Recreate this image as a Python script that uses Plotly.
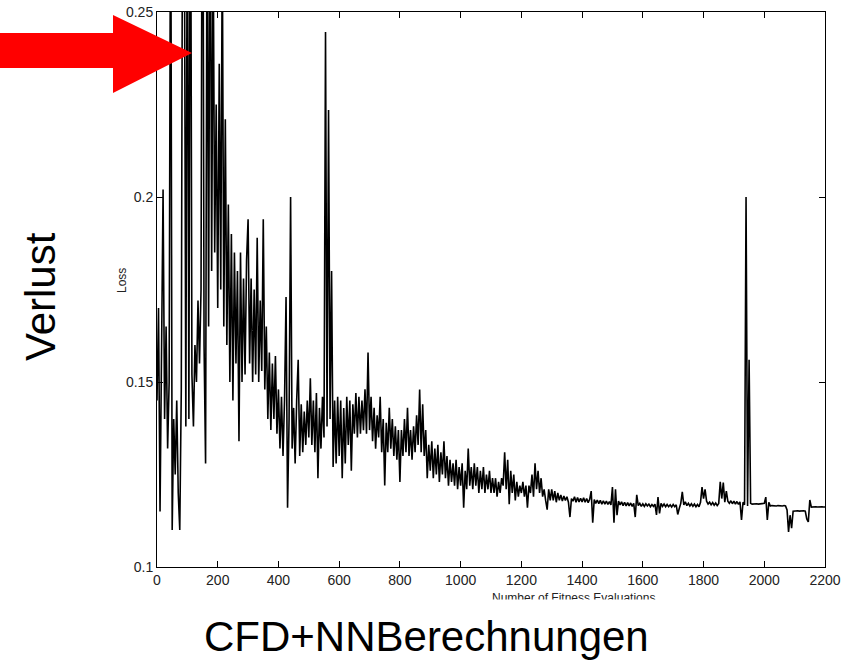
import plotly.graph_objects as go

# Number of fitness evaluations (sampled every 5 evaluations)
evaluations = list(range(0, 2201, 5))

# Loss values (one row = 100 evaluations)
loss = [
    0.145, 0.170, 0.115, 0.168, 0.202, 0.140, 0.165, 0.132, 0.150, 0.300,
    0.110, 0.140, 0.125, 0.145, 0.120, 0.110, 0.148, 0.320, 0.280, 0.138,
    0.300, 0.140, 0.320, 0.152, 0.138, 0.160, 0.150, 0.172, 0.155, 0.175,
    0.340, 0.160, 0.128, 0.290, 0.165, 0.310, 0.180, 0.270, 0.185, 0.225,
    0.170, 0.236, 0.175, 0.270, 0.165, 0.221, 0.160, 0.198, 0.150, 0.190,
    0.145, 0.185, 0.155, 0.180, 0.134, 0.185, 0.150, 0.178, 0.152, 0.183,
    0.194, 0.155, 0.178, 0.150, 0.175, 0.152, 0.189, 0.150, 0.172, 0.153,
    0.194, 0.148, 0.165, 0.140, 0.158, 0.137, 0.155, 0.140, 0.157, 0.136,
    0.148, 0.132, 0.146, 0.130, 0.145, 0.173, 0.116, 0.140, 0.200, 0.132,
    0.143, 0.128, 0.145, 0.156, 0.130, 0.144, 0.131, 0.142, 0.133, 0.145,
    0.135, 0.151, 0.133, 0.145, 0.131, 0.147, 0.124, 0.143, 0.132, 0.146,
    0.135, 0.2446, 0.138, 0.2235, 0.140, 0.180, 0.127, 0.145, 0.128, 0.146,
    0.130, 0.145, 0.124, 0.143, 0.128, 0.146, 0.133, 0.145, 0.126, 0.144,
    0.136, 0.147, 0.135, 0.146, 0.136, 0.145, 0.137, 0.148, 0.136, 0.158,
    0.137, 0.146, 0.134, 0.143, 0.132, 0.141, 0.135, 0.146, 0.131, 0.140,
    0.122, 0.139, 0.131, 0.143, 0.132, 0.140, 0.130, 0.138, 0.129, 0.137,
    0.123, 0.137, 0.130, 0.140, 0.131, 0.143, 0.130, 0.137, 0.129, 0.138,
    0.131, 0.141, 0.133, 0.148, 0.131, 0.144, 0.130, 0.137, 0.124, 0.133,
    0.126, 0.134, 0.124, 0.132, 0.125, 0.133, 0.123, 0.131, 0.125, 0.134,
    0.124, 0.130, 0.122, 0.129, 0.123, 0.128, 0.122, 0.129, 0.121, 0.127,
    0.122, 0.128, 0.116, 0.126, 0.121, 0.132, 0.122, 0.127, 0.121, 0.128,
    0.122, 0.127, 0.120, 0.126, 0.121, 0.127, 0.120, 0.125, 0.121, 0.126,
    0.120, 0.124, 0.120, 0.124, 0.119, 0.123, 0.120, 0.124, 0.122, 0.131,
    0.121, 0.129, 0.117, 0.126, 0.120, 0.125, 0.118, 0.123, 0.119, 0.122,
    0.120, 0.123, 0.119, 0.122, 0.116, 0.122, 0.120, 0.125, 0.119, 0.128,
    0.121, 0.126, 0.120, 0.124, 0.119, 0.121, 0.118, 0.1155, 0.121, 0.118,
    0.121, 0.118, 0.1205, 0.1175, 0.120, 0.118, 0.1195, 0.1178, 0.1192, 0.118,
    0.119, 0.1175, 0.1135, 0.1185, 0.1178, 0.119, 0.1175, 0.1188, 0.1176, 0.1186,
    0.1176, 0.1187, 0.1175, 0.1185, 0.1174, 0.1183, 0.1205, 0.112, 0.1182, 0.1172,
    0.1181, 0.1171, 0.118, 0.117, 0.1179, 0.117, 0.1178, 0.1169, 0.1177, 0.1168,
    0.1216, 0.112, 0.121, 0.114, 0.1178, 0.1168, 0.1176, 0.1166, 0.1175, 0.1165,
    0.1174, 0.1165, 0.1173, 0.1164, 0.1172, 0.1135, 0.1195, 0.1166, 0.1172, 0.1164,
    0.1171, 0.1164, 0.1171, 0.1165, 0.117, 0.1163, 0.1169, 0.1164, 0.117, 0.1141,
    0.1189, 0.1145, 0.1172, 0.1164, 0.117, 0.1163, 0.1169, 0.1163, 0.1168, 0.1162,
    0.1169, 0.1163, 0.1168, 0.1142, 0.1158, 0.1172, 0.1203, 0.1168, 0.1176, 0.1166,
    0.1172, 0.1165, 0.1171, 0.1164, 0.117, 0.1163, 0.1169, 0.1163, 0.1175, 0.1216,
    0.1185, 0.121, 0.1178, 0.117, 0.1175, 0.1168, 0.1174, 0.1167, 0.1173, 0.1166,
    0.1172, 0.123, 0.1185, 0.1228, 0.1175, 0.1205, 0.1178, 0.1172, 0.1179, 0.1171,
    0.1178, 0.117, 0.1177, 0.1169, 0.1176, 0.1127, 0.1175, 0.1168, 0.200, 0.1165,
    0.156, 0.1172, 0.117, 0.1171, 0.117, 0.1171, 0.117, 0.1171, 0.117, 0.1171,
    0.1172, 0.1189, 0.1127, 0.1175, 0.1165, 0.1166, 0.1165, 0.1166, 0.1165, 0.1166,
    0.1165, 0.1166, 0.1165, 0.1166, 0.1165, 0.1154, 0.1095, 0.114, 0.1105, 0.1151,
    0.1152, 0.1151, 0.1152, 0.1151, 0.1152, 0.1151, 0.1152, 0.1151, 0.113, 0.1122,
    0.1181, 0.1162, 0.1163, 0.1162, 0.1163, 0.1162, 0.1163, 0.1162, 0.1163, 0.1162,
    0.1162,
]

x_ticks = list(range(0, 2201, 200))
y_ticks = [0.1, 0.15, 0.2, 0.25]
y_tick_labels = ["0.1", "0.15", "0.2", "0.25"]

W, H = 852, 663
ML, MR, MT, MB = 157, 27, 12, 96
PW, PH = W - ML - MR, H - MT - MB


def px(xp):
    return (xp - ML) / PW


def py(yp):
    return (H - MB - yp) / PH


fig = go.Figure()
fig.add_trace(go.Scatter(
    x=evaluations, y=loss, mode="lines",
    line=dict(color="black", width=1.6),
    showlegend=False, hoverinfo="skip",
))

axis_common = dict(
    showline=True, linecolor="black", linewidth=1, mirror="ticks",
    ticks="inside", ticklen=6, tickwidth=1, tickcolor="black",
    showgrid=False, zeroline=False, automargin=False,
    tickfont=dict(family="Liberation Sans, Arial, sans-serif", size=14, color="#222"),
)

fig.update_xaxes(range=[0, 2200], tickvals=x_ticks, **axis_common)
fig.update_yaxes(range=[0.1, 0.25], tickvals=y_ticks, ticktext=y_tick_labels, **axis_common)

# Red arrow (pixel outline converted to paper coords)
arrow_px = [(0, 33), (113, 33), (113, 15), (192, 53), (113, 93), (113, 68), (0, 68)]
path = "M " + " L ".join(f"{px(a):.5f},{py(b):.5f}" for a, b in arrow_px) + " Z"
fig.add_shape(type="path", path=path, xref="paper", yref="paper",
              fillcolor="#ff0000", line=dict(width=0), layer="above")

annotations = [
    dict(text="Loss", x=px(122), y=py(281), textangle=-90,
         font=dict(family="Liberation Sans, Arial", size=12, color="#222")),
    dict(text="Number of Fitness Evaluations", x=px(573), y=py(598),
         font=dict(family="Liberation Sans, Arial", size=12, color="#222")),
    # white band hiding the lower half of the small x label (as cut in the original)
    dict(text=" ", x=px(573), y=py(599), yanchor="top", width=260, height=14,
         bgcolor="white", font=dict(size=8)),
    dict(text="Verlust", x=px(40), y=py(297), textangle=-90,
         font=dict(family="Liberation Sans, Arial", size=42, color="black")),
    dict(text="CFD+NNBerechnungen", x=px(426), y=py(636),
         font=dict(family="Liberation Sans, Arial", size=42, color="black")),
]
for a in annotations:
    a.setdefault("xanchor", "center")
    a.setdefault("yanchor", "middle")
    fig.add_annotation(xref="paper", yref="paper", showarrow=False, **a)

fig.update_layout(
    template="none",
    width=W, height=H,
    margin=dict(l=ML, r=MR, t=MT, b=MB, pad=0, autoexpand=False),
    paper_bgcolor="white", plot_bgcolor="white",
)

fig.write_html(
    "out.html",
    config={"displayModeBar": False},
    post_script="document.body.style.margin='0';document.body.style.overflow='hidden';",
)
